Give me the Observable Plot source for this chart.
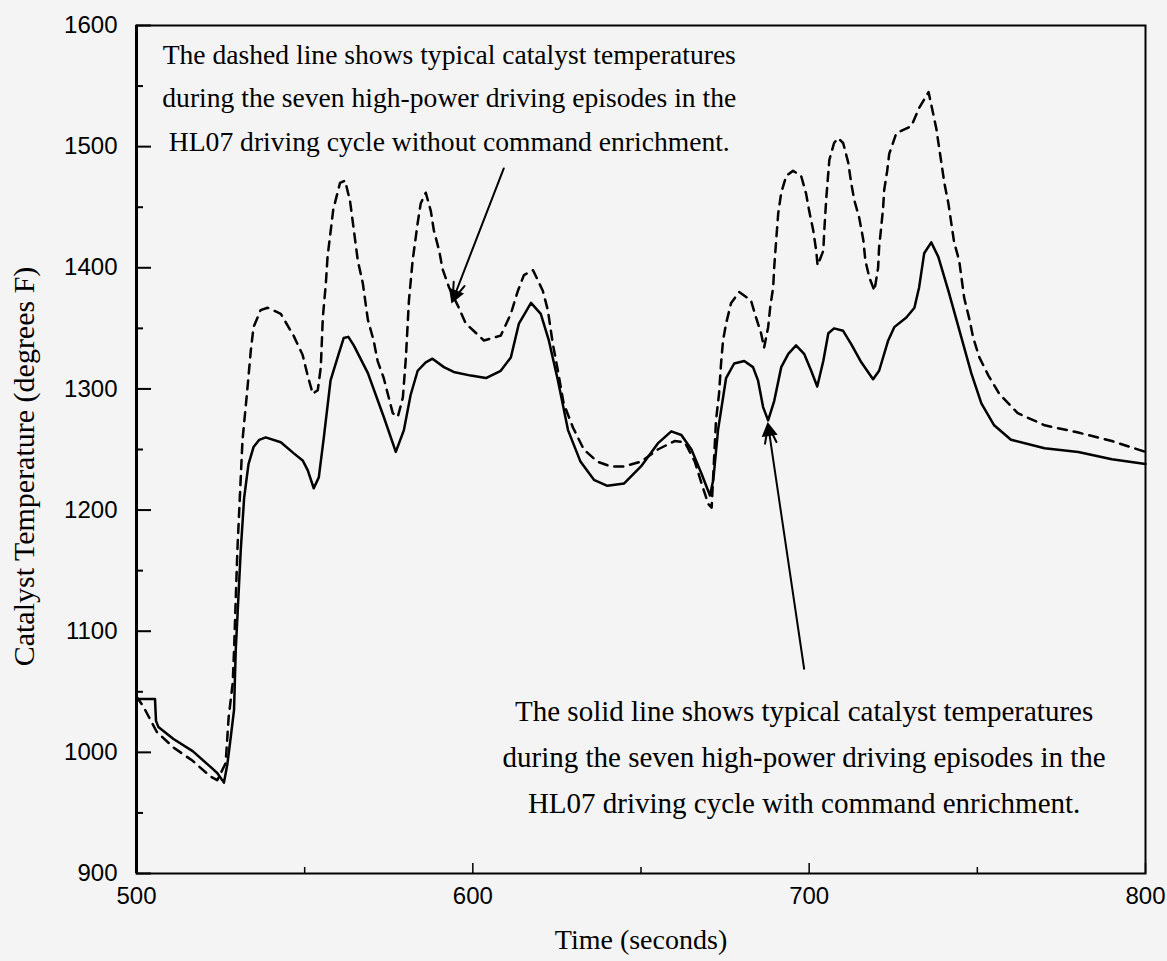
<!DOCTYPE html>
<html><head><meta charset="utf-8">
<script src="https://cdn.jsdelivr.net/npm/d3@7"></script>
<script src="https://cdn.jsdelivr.net/npm/@observablehq/plot@0.6"></script>
<style>
html,body{margin:0;padding:0;background:#f4f4f4;}
#chart svg{display:block;background:#f4f4f4;}
</style></head><body><div id="chart"></div>
<script>
// Solid line: with command enrichment
const solidTime = [500,505.5,505.8,506.5,511,516.7,522,524,526,527,528,529,529.5,531,532,533.3,534.8,536.5,538.4,542.9,546.7,549.4,550.9,552.7,554.2,555.7,557.7,559.8,561.6,563,564.6,568.8,573.5,577.1,579.5,581.5,583.6,586,588,591.4,594.3,599.4,603.9,608.3,611.3,613.7,617.3,620.2,622.6,625.3,628.3,632,636,640,645,650,655,659,662,665,668,670.5,671.5,672.9,675.3,677.7,680.7,683.3,684.8,686.3,687.8,689.6,691.7,693.8,696.1,698.5,700.6,702.4,704.2,705.7,707.4,710.1,712.5,715.5,719,720.8,723.5,725.3,728.9,731.3,732.7,734.2,736.3,738.4,741.4,744.4,748.2,751.2,755,760,770,780,790,800];
const solidTemp = [1044,1044,1026,1021,1011,1001,988,983,975,990,1012,1035,1084,1167,1210,1238,1252,1258,1260,1256,1247,1241,1233,1218,1227,1260,1307,1326,1342,1343,1336,1313,1277,1248,1266,1295,1315,1322,1325,1318,1314,1311,1309,1315,1326,1354,1371,1362,1340,1307,1266,1240,1225,1220,1222,1236,1255,1265,1262,1250,1230,1212,1225,1266,1309,1321,1323,1318,1307,1285,1274,1290,1318,1329,1336,1329,1315,1302,1323,1346,1350,1348,1337,1322,1308,1315,1340,1351,1359,1367,1384,1412,1421,1409,1381,1351,1313,1288,1270,1258,1251,1248,1242,1238];

// Dashed line: without command enrichment
const dashedTime = [500,502,506,511,516.7,522,524,526.5,527.4,528.6,529,530,531.5,533,534,534.8,536.9,539,542.9,546.7,549.4,550.9,552.4,553.9,554.8,555.4,556.3,556.8,558.5,560.5,562,563.5,565.8,567.3,568.8,570.5,571.7,573.5,574.7,576.2,577.7,579.2,580.1,581,582.1,583.6,584.5,586,587.5,588.4,590,591,592.9,595.5,597.9,603.3,608.3,611.3,613.4,615.2,617.9,620.8,622.3,623.8,625.3,627,629.8,633,637,641,645,650,655,660,663,666,668,670,671,671.5,672.3,673.2,673.8,674.4,675.3,676.8,679.2,682.7,684.2,685.7,686.6,687.8,688.4,689.3,689.6,690.2,690.8,691.7,693.2,695.2,697.6,699.1,700,701.2,702.1,702.5,704.2,704.5,705.1,706,707.4,708.6,710.1,711.6,712.5,713.4,714.9,716.1,716.7,717.9,719.4,720.5,720.8,721.4,722,722.3,723.2,723.8,725.9,730.4,732.7,735.5,737.8,738.7,740.2,741.4,743.1,744.6,746.1,747.6,748.8,750.6,753.3,756.5,762,770,780,790,800];
const dashedTemp = [1046,1038,1017,1004,993,980,977,991,1029,1057,1084,1167,1257,1301,1332,1351,1365,1367,1362,1344,1328,1311,1296,1299,1318,1359,1387,1409,1448,1470,1472,1455,1406,1387,1357,1340,1323,1309,1296,1280,1277,1293,1326,1373,1406,1437,1453,1462,1447,1431,1414,1399,1384,1369,1354,1340,1344,1362,1381,1394,1398,1381,1365,1337,1315,1288,1268,1250,1240,1236,1236,1240,1250,1257,1256,1240,1222,1205,1202,1230,1274,1296,1321,1340,1354,1371,1380,1373,1359,1346,1334,1351,1367,1384,1400,1423,1445,1462,1476,1480,1476,1461,1447,1431,1414,1402,1414,1431,1458,1489,1503,1507,1503,1487,1470,1456,1441,1423,1406,1392,1381,1400,1417,1433,1450,1464,1480,1494,1511,1517,1532,1545,1515,1498,1470,1453,1421,1406,1375,1358,1342,1326,1311,1296,1280,1270,1264,1257,1248];

// Axis ticks
const yMajorTicks = [900,1000,1100,1200,1300,1400,1500,1600];
const yMinorTicks = [950,1050,1150,1250,1350,1450,1550];
const xMajorTicks = [500,600,700,800];
const xMinorTicks = [550,650,750];

// Annotations
const noteTexts = [
  "The dashed line shows typical catalyst temperatures\nduring the seven high-power driving episodes in the\nHL07 driving cycle without command enrichment.",
  "The solid line shows typical catalyst temperatures\nduring the seven high-power driving episodes in the\nHL07 driving cycle with command enrichment."
];
const noteX = [593, 698.5];
const noteY = [1544, 1000];
const noteSize = [27.6, 29];
const arrowX1 = [609.2, 698.5];
const arrowY1 = [1482, 1069];
const arrowX2 = [594.0, 687.8];
const arrowY2 = [1373, 1270];

const xLabel = "Time (seconds)";
const yLabel = "Catalyst Temperature (degrees F)";

const solid = solidTime.map((t, i) => ({t, v: solidTemp[i]}));
const dashed = dashedTime.map((t, i) => ({t, v: dashedTemp[i]}));
const notes = noteTexts.map((text, i) => ({text, x: noteX[i], y: noteY[i], size: noteSize[i]}));
const arrows = arrowX1.map((x1, i) => ({x1, y1: arrowY1[i], x2: arrowX2[i], y2: arrowY2[i]}));

const W = 1167, H = 961, mL = 136, mR = 22, mT = 25, mB = 88;
const plotW = W - mL - mR, plotH = H - mT - mB;
const xDom = [500, 800], yDom = [900, 1600];
const pxPerX = plotW / (xDom[1] - xDom[0]);
const pxPerY = plotH / (yDom[1] - yDom[0]);
// filled arrowheads: triangle placed just behind each arrow tip, rotated along the arrow
const heads = arrows.map(a => {
  const dxp = (a.x2 - a.x1) * pxPerX, dyp = -(a.y2 - a.y1) * pxPerY;
  const len = Math.hypot(dxp, dyp);
  const back = 6;
  return {
    x: a.x2 - (dxp / len * back) / pxPerX,
    y: a.y2 + (dyp / len * back) / pxPerY,
    angle: Math.atan2(dxp, -dyp) * 180 / Math.PI
  };
});

const serif = "Liberation Serif, Times New Roman, serif";
const sans = "Liberation Sans, Arial, sans-serif";

const chart = Plot.plot({
  width: W, height: H,
  marginLeft: mL, marginRight: mR, marginTop: mT, marginBottom: mB,
  style: {background: "#f4f4f4", color: "black"},
  x: {domain: xDom},
  y: {domain: yDom},
  marks: [
    Plot.frame({stroke: "black", strokeWidth: 2}),
    Plot.ruleX([500], {stroke: "black", strokeWidth: 3}),
    Plot.ruleY(yMajorTicks, {stroke: "black", strokeWidth: 2, insetRight: plotW - 15}),
    Plot.ruleY(yMinorTicks, {stroke: "black", strokeWidth: 2, insetRight: plotW - 7}),
    Plot.ruleX(xMajorTicks, {stroke: "black", strokeWidth: 1.5, insetTop: plotH - 10}),
    Plot.ruleX(xMinorTicks, {stroke: "black", strokeWidth: 1.5, insetTop: plotH - 6}),
    Plot.axisY(yMajorTicks, {tickSize: 0, tickPadding: 19, fontSize: 24, fontFamily: sans, label: null, tickFormat: d => String(d)}),
    Plot.axisX(xMajorTicks, {tickSize: 0, tickPadding: 13, fontSize: 24, fontFamily: sans, label: null, tickFormat: d => String(d)}),
    Plot.text([xLabel], {frameAnchor: "bottom", textAnchor: "middle", lineAnchor: "middle", dy: 67, fontSize: 28, fontFamily: serif}),
    Plot.text([yLabel], {frameAnchor: "left", textAnchor: "middle", lineAnchor: "middle", rotate: -90, dx: -112, dy: 17, fontSize: 30, fontFamily: serif}),
    Plot.line(dashed, {x: "t", y: "v", stroke: "black", strokeWidth: 2.5, strokeDasharray: "9,7"}),
    Plot.line(solid, {x: "t", y: "v", stroke: "black", strokeWidth: 2.5}),
    Plot.arrow(arrows, {x1: "x1", y1: "y1", x2: "x2", y2: "y2", stroke: "black", strokeWidth: 2, headLength: 14, headAngle: 36}),
    Plot.dot(heads, {x: "x", y: "y", rotate: "angle", symbol: "triangle", r: 6, fill: "black", stroke: "none"}),
    Plot.text(notes, {x: "x", y: "y", text: "text", fontSize: d => d.size, lineHeight: 1.58, fontFamily: serif, fill: "black"})
  ]
});
document.getElementById("chart").appendChild(chart);
</script>
</body></html>
